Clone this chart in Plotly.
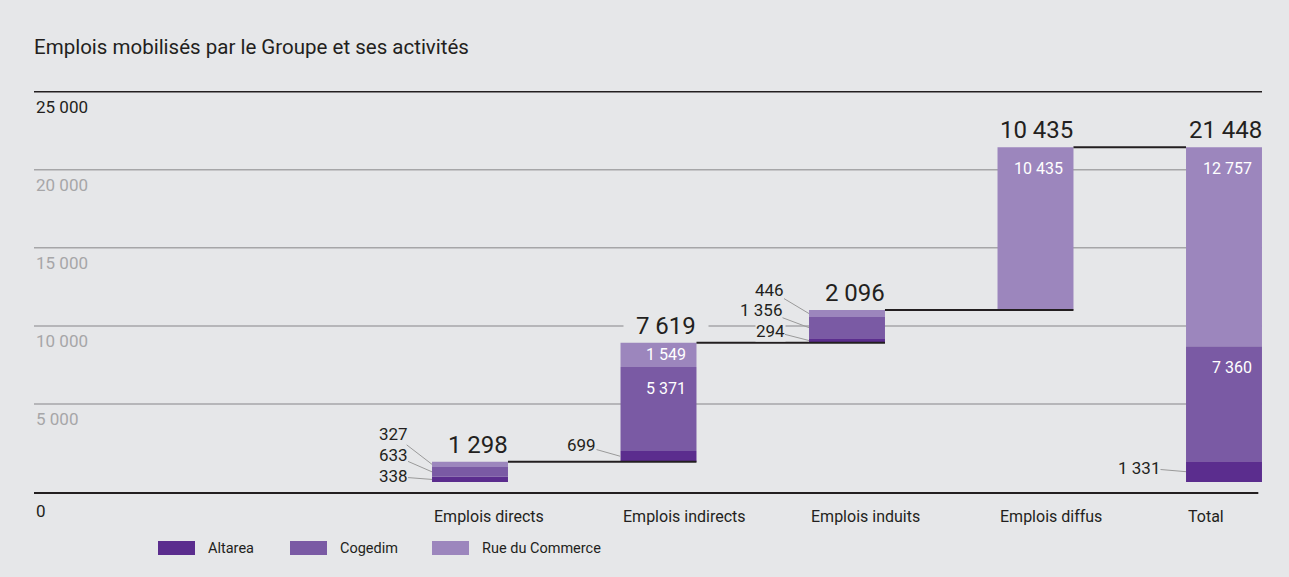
import plotly.graph_objects as go

# ---------------- data ----------------
categories = ["Emplois directs", "Emplois indirects", "Emplois induits", "Emplois diffus", "Total"]
series_names = ["Altarea", "Cogedim", "Rue du Commerce"]
altarea = [338, 699, 294, 0, 1331]
cogedim = [633, 5371, 1356, 0, 7360]
rue_du_commerce = [327, 1549, 446, 10435, 12757]
totals = [1298, 7619, 2096, 10435, 21448]
y_ticks = [25000, 20000, 15000, 10000, 5000, 0]
y_tick_labels = ["25 000", "20 000", "15 000", "10 000", "5 000", "0"]

# ---------------- style ----------------
BG = "#e6e7e9"
DARK = "#231f20"
GRID = "#a6a6a8"
COLORS = ["#5b2d8e", "#7a5aa4", "#9c86bd"]
FONT = "Roboto"
W = 0.403
Y_MIN, Y_MAX = -700, 25300
X_MIN, X_MAX = -2.313, 4.2016
ML, MR, MT, MB = 34, 27, 87, 84
PLOT_H = 577 - MT - MB
PLOT_W = 1289 - ML - MR
PX = (Y_MAX - Y_MIN) / PLOT_H  # data units per pixel

# leader label pixel offsets (ax, ay) for small segments
leader_offsets = {
    (0, 2): (-39, -30), (0, 1): (-39, -17), (0, 0): (-39, -3),
    (1, 0): (-39, -11),
    (2, 2): (-40, -24), (2, 1): (-48, -18), (2, 0): (-39, -10),
    (4, 0): (-47, -4),
}


def fmt(n):
    return f"{n:,}".replace(",", " ")


n = len(categories)
# waterfall bases
bases = []
acc = 0
for i in range(n):
    if categories[i] == "Total":
        bases.append(0)
    else:
        bases.append(acc)
        acc += totals[i]

series = [altarea, cogedim, rue_du_commerce]
xs = list(range(n))

fig = go.Figure()
seg_bottoms = []
running = list(bases)
for s, vals in enumerate(series):
    b = list(running)
    seg_bottoms.append(b)
    fig.add_trace(go.Bar(
        x=xs, y=vals, base=b, width=W, name=series_names[s],
        marker=dict(color=COLORS[s], line=dict(width=0)),
        showlegend=False, hoverinfo="skip",
    ))
    running = [running[i] + vals[i] for i in range(n)]

shapes = []
annotations = []

# gridlines and tick labels
for v, lab in zip(y_ticks, y_tick_labels):
    if v == 0:
        shapes.append(dict(type="line", xref="paper", yref="paper", x0=0, x1=0.997, y0=0, y1=0,
                           line=dict(color=DARK, width=2), layer="above"))
        annotations.append(dict(xref="paper", yref="paper", x=0, y=0, text=lab, showarrow=False,
                                xanchor="left", yanchor="top", yshift=-6,
                                font=dict(family=FONT, size=17, color=DARK)))
    else:
        color = DARK if v == max(y_ticks) else GRID
        shapes.append(dict(type="line", xref="paper", yref="y", x0=0, x1=1, y0=v, y1=v,
                           line=dict(color=color, width=1.5), layer="below"))
        annotations.append(dict(xref="paper", yref="y", x=0, y=v, text=lab, showarrow=False,
                                xanchor="left", yanchor="top", yshift=-3,
                                font=dict(family=FONT, size=17, color=color)))

# connectors
for i in range(n - 1):
    level = bases[i] + totals[i]
    x0 = i + W / 2
    x1 = (i + 1 - W / 2) if categories[i + 1] == "Total" else (i + 1 + W / 2)
    shapes.append(dict(type="line", xref="x", yref="y", x0=x0, x1=x1, y0=level, y1=level,
                       line=dict(color=DARK, width=2), layer="above"))

# totals above bars
for i in range(n):
    top = bases[i] + totals[i]
    annotations.append(dict(xref="x", yref="y", x=i + W / 2, y=top,
                            text="\u00a0\u00a0" + fmt(totals[i]) + "\u00a0\u00a0",
                            showarrow=False, xanchor="right", yanchor="middle",
                            yshift=17, xshift=13, bgcolor=BG, borderpad=0,
                            font=dict(family=FONT, size=24, color=DARK)))

# segment labels
for s, vals in enumerate(series):
    for i in range(n):
        v = vals[i]
        if v <= 0:
            continue
        bottom = seg_bottoms[s][i]
        top = bottom + v
        if v >= 1500:
            yc = top - min(21 * PX, v / 2)
            annotations.append(dict(xref="x", yref="y", x=i + W / 2, y=yc, text=fmt(v),
                                    showarrow=False, xanchor="right", yanchor="middle", xshift=-8,
                                    font=dict(family=FONT, size=16, color="white")))
        else:
            ax, ay = leader_offsets.get((i, s), (-40, 0))
            annotations.append(dict(xref="x", yref="y", x=i - W / 2, y=bottom + v / 2, text=fmt(v),
                                    showarrow=True, arrowhead=0, arrowwidth=1, arrowcolor="#9a9a9a",
                                    ax=ax, ay=ay, standoff=0, bgcolor=BG, borderpad=0,
                                    font=dict(family=FONT, size=17, color=DARK)))

# category labels
for i, c in enumerate(categories):
    annotations.append(dict(xref="x", yref="paper", x=i - W / 2, y=(0 - 23) / PLOT_H, text=c,
                            showarrow=False, xanchor="left", yanchor="middle",
                            font=dict(family=FONT, size=16, color=DARK)))

# legend
legend_x = [158, 290, 432]
for s, name in enumerate(series_names):
    px0 = legend_x[s]
    shapes.append(dict(type="rect", xref="paper", yref="paper",
                       x0=(px0 - ML) / PLOT_W, x1=(px0 + 37 - ML) / PLOT_W,
                       y0=(577 - MB - 555) / PLOT_H, y1=(577 - MB - 541) / PLOT_H,
                       fillcolor=COLORS[s], line=dict(width=0)))
    annotations.append(dict(xref="paper", yref="paper",
                            x=(px0 + 48 - ML) / PLOT_W, y=(577 - MB - 548) / PLOT_H,
                            text=name, showarrow=False, xanchor="left", yanchor="middle",
                            font=dict(family=FONT, size=14.5, color=DARK)))

fig.update_layout(
    width=1289, height=577,
    margin=dict(l=ML, r=MR, t=MT, b=MB),
    paper_bgcolor=BG, plot_bgcolor=BG,
    barmode="overlay",
    title=dict(text="Emplois mobilisés par le Groupe et ses activités", x=34 / 1289, xanchor="left",
               xref="container", y=1 - 47 / 577, yref="container", yanchor="middle",
               font=dict(family=FONT, size=20.5, color=DARK)),
    xaxis=dict(range=[X_MIN, X_MAX], visible=False, fixedrange=True),
    yaxis=dict(range=[Y_MIN, Y_MAX], visible=False, fixedrange=True),
    shapes=shapes, annotations=annotations,
    font=dict(family=FONT),
)

fig.write_html("out.html", config={"displayModeBar": False})
